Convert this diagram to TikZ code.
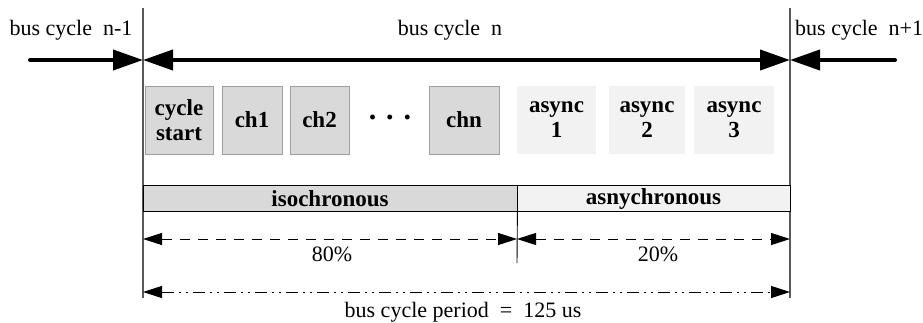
\documentclass[tikz,border=0pt]{standalone}
\usepackage{fontspec}
\setmainfont{Liberation Serif}
\usetikzlibrary{arrows.meta}
\begin{document}
\begin{tikzpicture}[x=1pt,y=-1pt,
  txt/.style={font=\fontsize{22}{24}\selectfont, inner sep=0pt},
  btxt/.style={font=\fontsize{23}{25}\selectfont\bfseries, inner sep=0pt, align=center},
  isobox/.style={draw=gray!75, fill=gray!30, line width=0.8pt, minimum height=68pt, inner sep=0pt},
  asybox/.style={fill=gray!10, minimum height=68pt, inner sep=0pt},
  bar/.style={draw=black, line width=0.8pt, minimum height=26pt, inner sep=0pt, font=\fontsize{23}{25}\selectfont\bfseries},
  thick arrow/.style={line width=4pt, line cap=round, -{Triangle[length=30pt,width=20pt]}},
  divider/.style={draw=gray!70!black, line width=1.1pt},
  dimline/.style={line width=0.9pt, dash pattern=on 10pt off 8pt, {Triangle[length=19pt,width=12pt]}-{Triangle[length=19pt,width=12pt]}},
  periodline/.style={line width=0.9pt, dash pattern=on 12pt off 5pt on 2pt off 5pt on 2pt off 5pt, {Triangle[length=19pt,width=12pt]}-{Triangle[length=19pt,width=12pt]}}
]
\useasboundingbox (0,0) rectangle (923,322);

% cycle boundaries
\coordinate (Ltop) at (143,8);
\coordinate (Lbot) at (143,298);
\coordinate (Rtop) at (790,8);
\coordinate (Rbot) at (790,298);
\draw[divider] (Ltop) -- (Lbot);
\draw[divider] (Rtop) -- (Rbot);

% bus cycle arrows
\coordinate (Lmid) at (143,60);
\coordinate (Rmid) at (790,60);
\coordinate (Lfar) at (30,60);
\coordinate (Rfar) at (895,60);
\draw[thick arrow] (Lfar) -- (Lmid);
\draw[thick arrow] (Rfar) -- (Rmid);
\draw[line width=4pt, {Triangle[length=30pt,width=20pt]}-{Triangle[length=30pt,width=20pt]}] (Lmid) -- (Rmid);

\node[txt, anchor=base] (prev) at (71,35) {bus cycle\ \ n-1};
\node[txt, anchor=base] (cur) at (450,35) {bus cycle\ \ n};
\node[txt, anchor=base west] (next) at (795,35) {bus cycle\ \ n+1};

% frames of cycle n
\node[isobox, minimum width=68pt] (cs) at (179,120) {};
\node[btxt] at (cs) {cycle\\start};
\node[isobox, minimum width=60pt] (ch1) at (252,120) {};
\node[btxt] at (ch1) {ch1};
\node[isobox, minimum width=59pt] (ch2) at (319.5,120) {};
\node[btxt] at (ch2) {ch2};
\node[txt, font=\fontsize{30}{30}\selectfont\bfseries] (dots) at (390,117) {.\,\,.\,\,.};
\node[isobox, minimum width=70pt] (chn) at (464,120) {};
\node[btxt] at (chn) {chn};
\node[asybox, minimum width=79pt] (as1) at (556.5,120) {};
\node[btxt] at (as1) {async\\1};
\node[asybox, minimum width=76pt] (as2) at (647,120) {};
\node[btxt] at (as2) {async\\2};
\node[asybox, minimum width=80pt] (as3) at (734,120) {};
\node[btxt] at (as3) {async\\3};

% phase bar
\node[bar, fill=gray!30, minimum width=374pt] (iso) at (330,198.5) {isochronous};
\node[bar, fill=gray!10, minimum width=273pt] (asy) at (653.5,198.5) {asnychronous};

% split line between phases
\coordinate (Sbot) at (517,263);
\draw[line width=0.9pt] (iso.south east) -- (Sbot);

% share of the cycle
\coordinate (D1) at (143,239);
\coordinate (D2) at (517,239);
\coordinate (D3) at (790,239);
\draw[dimline] (D1) -- (D2);
\draw[dimline] (D2) -- (D3);
\node[txt, anchor=base] (p80) at (332,261) {80\%};
\node[txt, anchor=base] (p20) at (658,261) {20\%};

% period
\coordinate (P1) at (143,292);
\coordinate (P2) at (790,292);
\draw[periodline] (P1) -- (P2);
\node[txt, anchor=base] (per) at (463,317) {bus cycle period\ \ =\ \ 125 us};
\end{tikzpicture}
\end{document}
